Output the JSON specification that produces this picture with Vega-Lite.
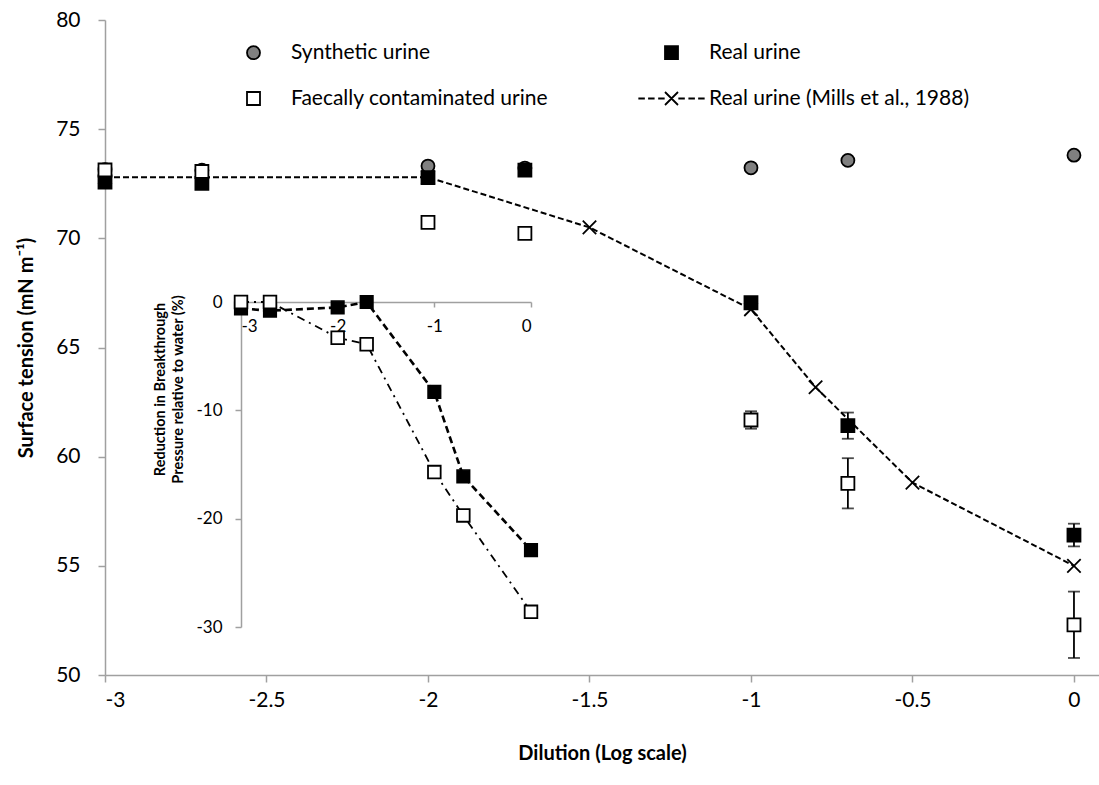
{
  "$schema": "https://vega.github.io/schema/vega-lite/v6.json",
  "width": 994,
  "height": 655,
  "autosize": {"type": "none"},
  "padding": {"left": 105, "top": 20, "right": 0, "bottom": 110},
  "background": "white",
  "config": {
    "font": "Lato",
    "view": {"stroke": null},
    "axis": {
      "grid": false,
      "domainColor": "#a0a0a0",
      "tickColor": "#a0a0a0",
      "domainWidth": 1.5,
      "tickWidth": 1.5,
      "labelColor": "#000000",
      "titleColor": "#000000",
      "labelFont": "Lato",
      "titleFont": "Lato"
    }
  },
  "datasets": {
    "main": [
      {"series": "Synthetic urine", "x": -3, "value": 73.15, "err": 0},
      {"series": "Synthetic urine", "x": -2.7, "value": 73.12, "err": 0},
      {"series": "Synthetic urine", "x": -2, "value": 73.31, "err": 0},
      {"series": "Synthetic urine", "x": -1.7, "value": 73.22, "err": 0},
      {"series": "Synthetic urine", "x": -1, "value": 73.23, "err": 0},
      {"series": "Synthetic urine", "x": -0.7, "value": 73.57, "err": 0},
      {"series": "Synthetic urine", "x": 0, "value": 73.81, "err": 0},
      {"series": "Real urine", "x": -3, "value": 72.58, "err": 0},
      {"series": "Real urine", "x": -2.7, "value": 72.52, "err": 0},
      {"series": "Real urine", "x": -2, "value": 72.78, "err": 0},
      {"series": "Real urine", "x": -1.7, "value": 73.12, "err": 0},
      {"series": "Real urine", "x": -1, "value": 67.05, "err": 0},
      {"series": "Real urine", "x": -0.7, "value": 61.42, "err": 0.6},
      {"series": "Real urine", "x": 0, "value": 56.41, "err": 0.52},
      {"series": "Faecally contaminated urine", "x": -3, "value": 73.13, "err": 0},
      {"series": "Faecally contaminated urine", "x": -2.7, "value": 73.06, "err": 0},
      {"series": "Faecally contaminated urine", "x": -2, "value": 70.73, "err": 0},
      {"series": "Faecally contaminated urine", "x": -1.7, "value": 70.23, "err": 0},
      {"series": "Faecally contaminated urine", "x": -1, "value": 61.68, "err": 0.4},
      {"series": "Faecally contaminated urine", "x": -0.7, "value": 58.78, "err": 1.15},
      {"series": "Faecally contaminated urine", "x": 0, "value": 52.3, "err": 1.52},
      {"series": "Real urine (Mills et al., 1988)", "x": -3, "value": 72.8, "err": 0},
      {"series": "Real urine (Mills et al., 1988)", "x": -2, "value": 72.8, "err": 0},
      {"series": "Real urine (Mills et al., 1988)", "x": -1.5, "value": 70.5, "err": 0},
      {"series": "Real urine (Mills et al., 1988)", "x": -1, "value": 66.75, "err": 0},
      {"series": "Real urine (Mills et al., 1988)", "x": -0.8, "value": 63.18, "err": 0},
      {"series": "Real urine (Mills et al., 1988)", "x": -0.5, "value": 58.81, "err": 0},
      {"series": "Real urine (Mills et al., 1988)", "x": 0, "value": 55.0, "err": 0}
    ],
    "inset": [
      {"series": "Real", "x": -3, "value": -0.6},
      {"series": "Real", "x": -2.7, "value": -0.8},
      {"series": "Real", "x": -2, "value": -0.5},
      {"series": "Real", "x": -1.7, "value": 0},
      {"series": "Real", "x": -1, "value": -8.3},
      {"series": "Real", "x": -0.7, "value": -16.1},
      {"series": "Real", "x": 0, "value": -22.9},
      {"series": "Faecal", "x": -3, "value": 0},
      {"series": "Faecal", "x": -2.7, "value": 0},
      {"series": "Faecal", "x": -2, "value": -3.3},
      {"series": "Faecal", "x": -1.7, "value": -3.9},
      {"series": "Faecal", "x": -1, "value": -15.7},
      {"series": "Faecal", "x": -0.7, "value": -19.7},
      {"series": "Faecal", "x": 0, "value": -28.6}
    ]
  },
  "layer": [
    {
      "data": {"name": "main"},
      "encoding": {
        "x": {
          "field": "x", "type": "quantitative",
          "scale": {"domain": [-3, 0.0775], "nice": false, "zero": false},
          "axis": {
            "values": [-3, -2.5, -2, -1.5, -1, -0.5, 0],
            "labelExpr": "toString(datum.value)",
            "title": "Dilution (Log scale)",
            "labelFontSize": 21, "titleFontSize": 20, "titleFontWeight": "bold",
            "tickSize": 7, "labelPadding": 7, "titlePadding": 33
          }
        },
        "y": {
          "field": "value", "type": "quantitative",
          "scale": {"domain": [50, 80], "nice": false, "zero": false},
          "axis": {
            "values": [50, 55, 60, 65, 70, 75, 80],
            "title": "Surface tension (mN m⁻¹)",
            "labelFontSize": 21, "titleFontSize": 20, "titleFontWeight": "bold",
            "tickSize": 7, "labelPadding": 18, "titlePadding": 19
          }
        }
      },
      "layer": [
        {
          "transform": [{"filter": "datum.err > 0"}],
          "mark": {"type": "errorbar", "color": "black", "ticks": {"size": 12, "thickness": 1.8, "color": "black"}, "rule": {"strokeWidth": 1.8, "color": "black"}},
          "encoding": {"yError": {"field": "err"}}
        },
        {
          "transform": [{"filter": "datum.series === 'Real urine (Mills et al., 1988)'"}],
          "mark": {"type": "line", "color": "black", "strokeDash": [6, 3], "strokeWidth": 2}
        },
        {
          "transform": [{"filter": "datum.series === 'Real urine (Mills et al., 1988)'"}],
          "mark": {"type": "point", "shape": "M-1,-1L1,1M-1,1L1,-1", "size": 180, "stroke": "black", "strokeWidth": 1.8, "opacity": 1}
        },
        {
          "transform": [{"filter": "datum.series !== 'Real urine (Mills et al., 1988)'"}],
          "mark": {"type": "point", "size": 169, "strokeWidth": 1.8, "opacity": 1, "filled": true},
          "encoding": {
            "shape": {
              "field": "series", "type": "nominal",
              "scale": {
                "domain": ["Synthetic urine", "Faecally contaminated urine", "Real urine", "Real urine (Mills et al., 1988)"],
                "range": ["circle", "square", "square", "M-5.1,0L-4.1,0M-3.6,0L-2.6,0M-2.05,0L-1.05,0M1.05,0L2.05,0M2.6,0L3.6,0M4.1,0L5.1,0M-1,-1L1,1M-1,1L1,-1"]
              },
              "legend": {
                "title": null, "orient": "none", "legendX": 138, "legendY": 22, "columns": 2,
                "labelFontSize": 21, "labelColor": "#000000", "labelFont": "Lato", "labelLimit": 500,
                "symbolSize": 169, "symbolStrokeWidth": 1.8, "symbolOpacity": 1,
                "labelOffset": 27, "columnPadding": 86, "rowPadding": 24, "padding": 0
              }
            },
            "fill": {
              "field": "series", "type": "nominal",
              "scale": {
                "domain": ["Synthetic urine", "Faecally contaminated urine", "Real urine", "Real urine (Mills et al., 1988)"],
                "range": ["#808080", "#ffffff", "#000000", "#ffffff"]
              },
              "legend": {
                "title": null, "orient": "none", "legendX": 138, "legendY": 22, "columns": 2,
                "labelFontSize": 21, "labelColor": "#000000", "labelFont": "Lato", "labelLimit": 500,
                "symbolSize": 169, "symbolStrokeWidth": 1.8, "symbolOpacity": 1,
                "labelOffset": 27, "columnPadding": 86, "rowPadding": 24, "padding": 0
              }
            },
            "stroke": {
              "field": "series", "type": "nominal",
              "scale": {
                "domain": ["Synthetic urine", "Faecally contaminated urine", "Real urine", "Real urine (Mills et al., 1988)"],
                "range": ["#000000", "#000000", "#000000", "#000000"]
              },
              "legend": {
                "title": null, "orient": "none", "legendX": 138, "legendY": 22, "columns": 2,
                "labelFontSize": 21, "labelColor": "#000000", "labelFont": "Lato", "labelLimit": 500,
                "symbolSize": 169, "symbolStrokeWidth": 1.8, "symbolOpacity": 1,
                "labelOffset": 27, "columnPadding": 86, "rowPadding": 24, "padding": 0
              }
            }
          }
        }
      ]
    },
    {
      "data": {"name": "inset"},
      "encoding": {
        "x": {
          "field": "x", "type": "quantitative",
          "scale": {"domain": [-3, 0], "range": [136, 426], "nice": false, "zero": false},
          "axis": {
            "orient": "bottom", "offset": -373,
            "values": [-3, -2, -1, 0],
            "labelExpr": "toString(datum.value)",
            "title": null, "labelFontSize": 17, "tickSize": 5, "labelPadding": 11
          }
        },
        "y": {
          "field": "value", "type": "quantitative",
          "scale": {"domain": [-30, 0], "range": [607, 282], "nice": false, "zero": false},
          "axis": {
            "orient": "left", "offset": -136,
            "values": [-30, -20, -10, 0],
            "labelExpr": "toString(datum.value)",
            "title": ["Reduction in Breakthrough", "Pressure relative to water (%)"],
            "titleFontSize": 14.5, "titleFontWeight": "bold", "titleY": 369, "titleLineHeight": 18,
            "labelFontSize": 17, "tickSize": 6, "labelPadding": 13, "titlePadding": 10
          }
        }
      },
      "layer": [
        {
          "transform": [{"filter": "datum.series === 'Faecal'"}],
          "mark": {"type": "line", "color": "black", "strokeDash": [8, 5, 2, 5], "strokeWidth": 1.8}
        },
        {
          "transform": [{"filter": "datum.series === 'Real'"}],
          "mark": {"type": "line", "color": "black", "strokeDash": [7, 4], "strokeWidth": 2.6}
        },
        {
          "transform": [{"filter": "datum.series === 'Real'"}],
          "mark": {"type": "point", "shape": "square", "size": 160, "stroke": "black", "strokeWidth": 1.5, "fill": "black", "opacity": 1, "filled": true}
        },
        {
          "transform": [{"filter": "datum.series === 'Faecal'"}],
          "mark": {"type": "point", "shape": "square", "size": 160, "stroke": "black", "strokeWidth": 1.8, "fill": "white", "opacity": 1, "filled": true}
        }
      ]
    }
  ],
  "resolve": {"scale": {"x": "independent", "y": "independent"}}
}
